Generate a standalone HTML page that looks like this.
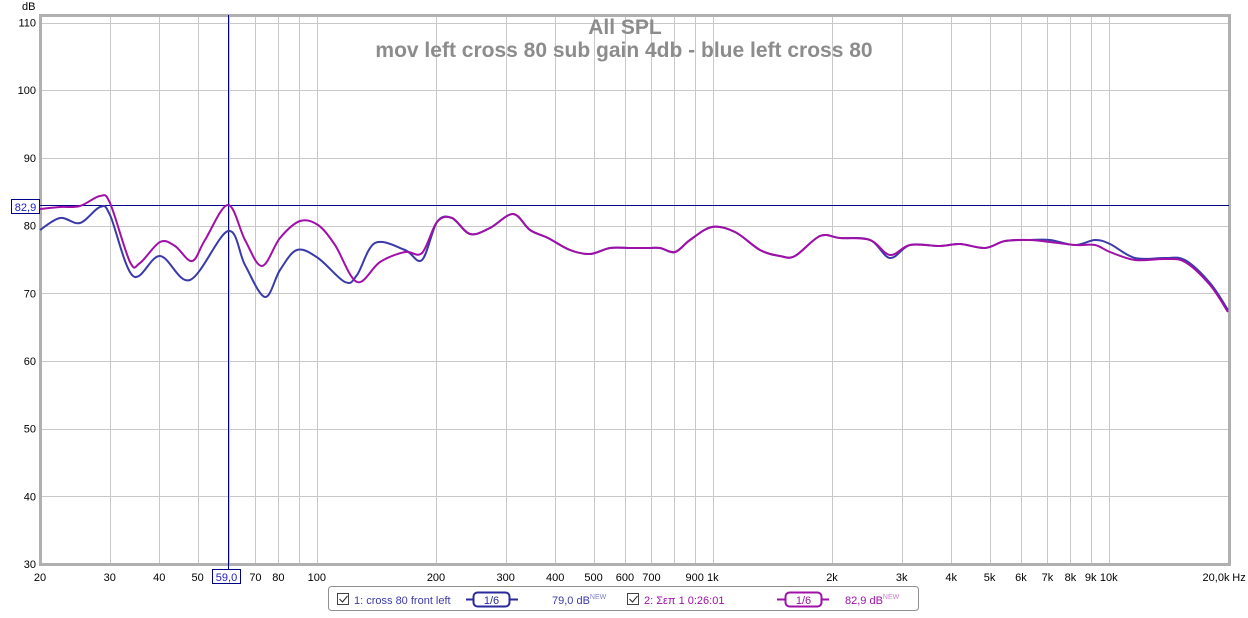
<!DOCTYPE html>
<html><head><meta charset="utf-8"><style>
body{margin:0;background:#fff;width:1248px;height:613px;overflow:hidden;font-family:"Liberation Sans",sans-serif}
svg text{font-family:"Liberation Sans","DejaVu Sans",sans-serif}
</style></head><body>
<svg id="s" width="1248" height="613" xmlns="http://www.w3.org/2000/svg">
<rect x="0" y="0" width="1248" height="613" fill="#fff"/>
<g id="grid" stroke="#c8c8c8" stroke-width="1"></g>
<rect x="40.5" y="15.5" width="1189" height="549" fill="none" stroke="#b0b0b0" stroke-width="3"/>
<text x="625" y="34" font-size="21" fill="#8c8c8c" text-anchor="middle" font-weight="bold">All SPL</text>
<text x="624" y="57" font-size="21" fill="#8c8c8c" text-anchor="middle" font-weight="bold">mov left cross 80 sub gain 4db - blue left cross 80</text>
<text x="22" y="10" font-size="11" fill="#000">dB</text>
<g id="yl" font-size="11" fill="#000" text-anchor="end"></g>
<g id="xl" font-size="11" fill="#000" text-anchor="middle"></g>
<line x1="40" y1="205.5" x2="1229" y2="205.5" stroke="#00008b" stroke-width="1"/>
<line x1="228.5" y1="15" x2="228.5" y2="575" stroke="#00008b" stroke-width="1"/>
<rect x="11.5" y="199.5" width="28" height="14" fill="#fff" stroke="#00008b"/>
<text x="25.5" y="211" font-size="11" fill="#2020c0" text-anchor="middle">82,9</text>
<rect x="212.5" y="569.5" width="28" height="14" fill="#fff" stroke="#00008b"/>
<text x="226.5" y="581" font-size="11" fill="#2020c0" text-anchor="middle">59,0</text>
<path id="pb" fill="none" stroke="#3a3aaa" stroke-width="2"/>
<path id="pm" fill="none" stroke="#a010a8" stroke-width="2"/>
<rect x="328.5" y="586.5" width="590" height="24" rx="3" fill="#fff" stroke="#909090"/>
<rect x="337.5" y="593.5" width="11" height="11" fill="#fff" stroke="#444"/>
<path d="M339.5 599 l3 3 l5 -6" fill="none" stroke="#222"/>
<text x="354" y="604" font-size="11" fill="#3a3aaa">1: cross 80 front left</text>
<line x1="466" y1="599.5" x2="518" y2="599.5" stroke="#2a2a9a" stroke-width="2"/>
<rect x="473.5" y="592.5" width="36" height="14" rx="4" fill="#fff" stroke="#2a2a9a" stroke-width="2"/>
<text x="491.5" y="604" font-size="11" fill="#2a2a9a" text-anchor="middle">1/6</text>
<text x="552" y="604" font-size="11" fill="#3a3aaa">79,0 dB<tspan font-size="7" dy="-5" fill="#8080d0">NEW</tspan></text>
<rect x="627.5" y="593.5" width="11" height="11" fill="#fff" stroke="#444"/>
<path d="M629.5 599 l3 3 l5 -6" fill="none" stroke="#222"/>
<text x="644" y="604" font-size="11" fill="#a010a8">2: Σεπ 1 0:26:01</text>
<line x1="777" y1="599.5" x2="829" y2="599.5" stroke="#a010a8" stroke-width="2"/>
<rect x="785.5" y="592.5" width="36" height="14" rx="4" fill="#fff" stroke="#a010a8" stroke-width="2"/>
<text x="803.5" y="604" font-size="11" fill="#a010a8" text-anchor="middle">1/6</text>
<text x="845" y="604" font-size="11" fill="#a010a8">82,9 dB<tspan font-size="7" dy="-5" fill="#d080d0">NEW</tspan></text>
</svg>
<script>
var NS="http://www.w3.org/2000/svg";
function X(f){return 40+396*Math.log10(f/20);}
function Y(d){return 22.5+(110-d)*6.77;}
function el(p,t,a,txt){var e=document.createElementNS(NS,t);for(var k in a)e.setAttribute(k,a[k]);if(txt!=null)e.textContent=txt;document.getElementById(p).appendChild(e);}
var fs=[];for(var f=30;f<=100;f+=10)fs.push(f);for(f=200;f<=1000;f+=100)fs.push(f);for(f=2000;f<=10000;f+=1000)fs.push(f);
fs.forEach(function(f){var x=Math.round(X(f))+0.5;el("grid","line",{x1:x,y1:15,x2:x,y2:564});});
for(var d=40;d<=110;d+=10){var y=Math.round(Y(d))+0.5;el("grid","line",{x1:40,y1:y,x2:1229,y2:y});}
for(d=30;d<=110;d+=10){el("yl","text",{x:36,y:Y(d)+4},""+d);}
var lab={20:"20",30:"30",40:"40",50:"50",60:"",70:"70",80:"80",100:"100",200:"200",300:"300",400:"400",500:"500",600:"600",700:"700",900:"900",1000:"1k",2000:"2k",3000:"3k",4000:"4k",5000:"5k",6000:"6k",7000:"7k",8000:"8k",9000:"9k",10000:"10k"};
for(var k in lab){if(lab[k])el("xl","text",{x:X(+k),y:581},lab[k]);}
el("xl","text",{x:1216,y:581},"20,0k");el("xl","text",{x:1239,y:581},"Hz");
function path(p){var d="M"+p[0][0]+" "+p[0][1];for(var i=0;i<p.length-1;i++){var p0=p[i-1]||p[i],p1=p[i],p2=p[i+1],p3=p[i+2]||p2;
d+=" C"+(p1[0]+(p2[0]-p0[0])/6)+" "+(p1[1]+(p2[1]-p0[1])/6)+" "+(p2[0]-(p3[0]-p1[0])/6)+" "+(p2[1]-(p3[1]-p1[1])/6)+" "+p2[0]+" "+p2[1];}return d;}
var common=[[437,222],[452,218],[470,234],[490,228],[513,214],[530,230],[548,238],[570,250],[590,254],[610,248],[630,248],[648,248],[660,248],[675,252],[690,240],[712,227],[735,232],[760,250],[780,256],[795,256],[820,236],[840,238],[870,240]];
var m=[[40,209],[60,207],[80,206],[100,196],[110,203],[130,262],[140,263],[160,242],[175,246],[192,261],[205,240],[228,205],[245,240],[262,266],[280,238],[300,221],[318,225],[335,245],[357,282],[380,262],[405,252],[422,253]].concat(common,[[890,255],[910,245],[940,246],[960,244],[985,248],[1005,241],[1030,240],[1050,242],[1075,245],[1095,245],[1110,252],[1135,260],[1165,259],[1185,262],[1210,285],[1228,312]]);
var b=[[40,230],[60,218],[80,223],[100,207],[110,215],[133,276],[160,256],[190,280],[228,231],[245,265],[265,297],[280,270],[297,250],[318,258],[345,282],[357,275],[375,243],[405,250],[422,260]].concat(common,[[890,258],[910,245],[940,246],[960,244],[985,248],[1005,241],[1030,240],[1050,240],[1075,245],[1095,240],[1110,244],[1135,258],[1165,258],[1185,260],[1210,283],[1228,310]]);
document.getElementById("pb").setAttribute("d",path(b));
document.getElementById("pm").setAttribute("d",path(m));
</script>
</body></html>
